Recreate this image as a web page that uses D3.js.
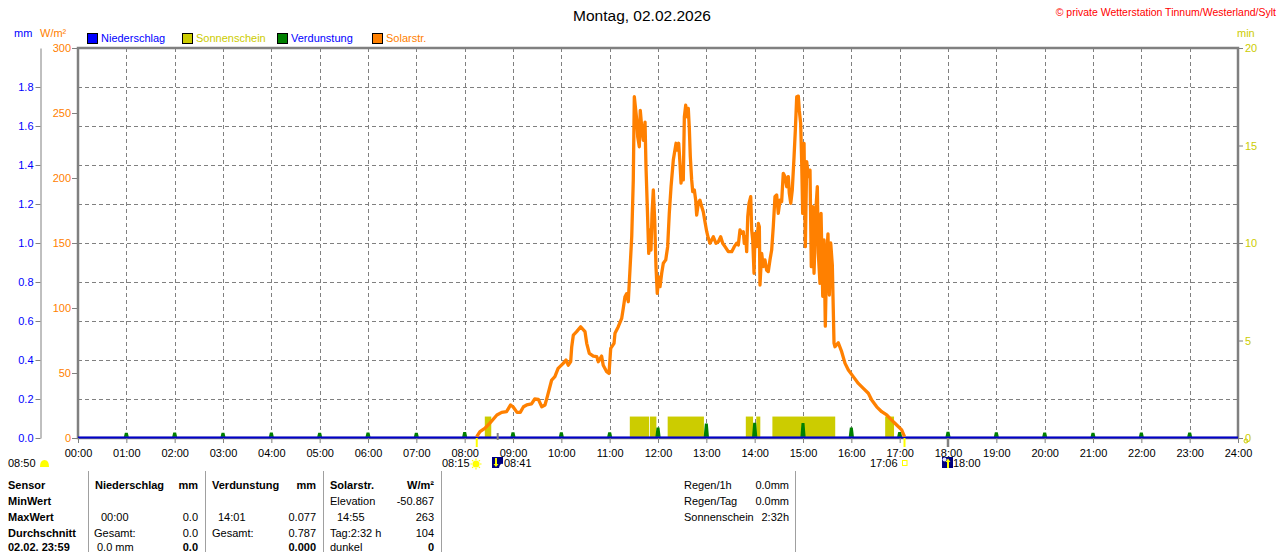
<!DOCTYPE html>
<html>
<head>
<meta charset="utf-8">
<script src="https://cdn.jsdelivr.net/npm/d3@7"></script>
<style>
  body { margin: 0; background: #fff; }
  svg text { font-family: "Liberation Sans", Arial, sans-serif; }
</style>
</head>
<body>
<svg id="chart" width="1280" height="552"></svg>
<script>
// ---- data (time in minutes of day) ----
const hours = d3.range(0, 25);
const mmTicks = [0, 0.2, 0.4, 0.6, 0.8, 1.0, 1.2, 1.4, 1.6, 1.8];
const solarTicks = [0, 50, 100, 150, 200, 250, 300];
const minTicks = [0, 5, 10, 15, 20];

// solar radiation W/m2
const solarMin = [495, 499, 505, 511, 520, 526, 532, 537, 540, 545, 549, 553, 557, 563, 567, 571.5, 575.7, 579.7,
  582.6, 588, 592, 596, 602.4, 605.8, 608.7, 611.6, 612.9, 614.9, 619, 624, 629.4, 631.5, 634.7, 639.7, 643.9,
  645.9, 650, 652, 656.3, 659.2, 661.3, 665.4, 666.6, 670.7, 674.9, 676.9, 679, 681, 683.1, 684.4, 687.4, 689.3,
  690.6, 693.6, 694.8, 696.8, 698, 700.1, 701.8, 703.9, 705.1, 706.7, 708.5, 710.1, 711.3, 712.6, 714.2, 715.9,
  717.5, 719.1, 720.9, 722.5, 724.6, 726.6, 729.6, 732, 734, 736.2, 739, 742.4, 744, 745.7, 747.3, 748.6, 750.2,
  751.4, 752.7, 754.4, 756, 757.6, 758.9, 760.1, 761.8, 763.1, 765.1, 766.8, 768, 770, 772.1, 774.2, 776.2, 778.3,
  780.5, 782.5, 784.6, 788.7, 792, 794.9, 797.8, 800.3, 803.2, 807.3, 811.5, 814.7, 817.7, 819.7, 821.8, 823.9,
  825.9, 827.1, 828.9, 830.1, 831.4, 833, 835.1, 836.3, 837.6, 839.2, 840.4, 842.5, 844.5, 845.8, 846.6, 848.7,
  850.7, 852.8, 854.9, 856.9, 859, 861.1, 863.1, 865.2, 867.3, 869.3, 871.5, 873.5, 875.5, 877.7, 879.8, 881.8,
  883, 884.8, 886.7, 888.9, 890.5, 892.2, 894.2, 895.4, 897.1, 898.4, 899.6, 901.3, 902.9, 904.6, 906.6, 908.7,
  910.3, 912.1, 913.7, 916.2, 917.8, 919, 921.1, 922.4, 924.5, 926.1, 927.7, 929.4, 931, 932.7, 934.4, 936.4,
  938.5, 939.7, 943.8, 948, 952.2, 956.3, 962.4, 968.7, 974.9, 981.1, 985.3, 991.5, 997.7, 1003.9, 1010.1,
  1016.3, 1022.5, 1026];
const solarWm = [1, 4.9, 7.4, 11.3, 17.7, 19.7, 20.3, 25.4, 24, 19.7, 19.7, 24, 25.4, 26.2, 30, 29.7, 24, 25.4,
  31.8, 44.6, 47.2, 53.6, 57.4, 60, 56, 58.7, 70.2, 79.2, 81.8, 85.6, 81.8, 72.8, 65.1, 63, 62.6,
  58.7, 63, 56, 51, 49.7, 69, 72.8, 80.5, 85.6, 92, 99.8, 108.7, 111, 104.8, 120, 155, 198,
  262.5, 244.6, 231.8, 224, 252, 237, 229, 243, 208.7, 178, 142, 160, 144.6, 172.8, 190.8, 167.7,
  131.8, 111.3, 124, 116.4, 126.7, 134.4, 137, 147.2, 172.8, 193.3, 213.8, 226.7, 221.5, 226.7, 211.3, 196, 208.7,
  198.5, 247, 256, 247, 253.6, 238, 216.4, 198.5, 189.5, 190.8, 183, 171.5, 180.5, 183, 178, 174, 166.4,
  158.7, 153.6, 149.8, 154.8, 149.8, 151, 154.8, 149.8, 147.2, 143.3, 143.3, 147.2, 149.8, 148.5, 160, 157.4,
  158.7, 149.8, 154.8, 143.3, 170.2, 180.5, 185.6, 160, 152.3, 126.7, 157.4, 147.2, 165, 162.5, 117.7, 142,
  131.8, 137, 129, 128, 137, 144.6, 162.5, 185.6, 187, 172.8, 183, 181.8, 203.6, 201, 193.3, 201,
  188.2, 180.5, 190.8, 216.4, 237, 262.5, 263, 252, 242, 211.3, 172.8, 226.7, 147.2, 212.6, 201, 206,
  131.8, 178, 126.7, 178, 193.3, 142, 119, 172.8, 109, 152.3, 86, 140, 157, 110, 150, 133,
  73, 70.2, 73.3, 66.4, 57.4, 52.3, 47.2, 42, 38.2, 34.4, 29.2, 24, 20.2, 17.7, 13.8,
  10, 6.2, 1];

// sunshine intervals (min of sunshine per interval)
const sunStart = ["08:25", "11:25", "11:50", "12:12", "13:49", "14:02", "14:22", "16:42"];
const sunEnd   = ["08:33", "11:49", "11:58", "12:57", "13:58", "14:07", "15:40", "16:53"];
const sunValue = 1.1;

// evaporation mm, hourly
const evapHours = d3.range(1, 24);
const evapValues = [0.025, 0.026, 0.025, 0.026, 0.025, 0.026, 0.025, 0.029, 0.028, 0.028, 0.028,
  0.053, 0.074, 0.077, 0.076, 0.053, 0.029, 0.030, 0.028, 0.026, 0.025, 0.026, 0.027];

// ---- setup ----
const svg = d3.select("#chart");
const L = 78, R = 1238, T = 48, B = 438;
const x = d3.scaleLinear().domain([0, 1440]).range([L, R]);
const ySolar = d3.scaleLinear().domain([0, 300]).range([B, T]);
const yMm = d3.scaleLinear().domain([0, 2]).range([B, T]);
const yMin = d3.scaleLinear().domain([0, 20]).range([B, T]);
const toMin = s => { const p = s.split(":"); return +p[0] * 60 + +p[1]; };
const GRAY = "#808080", YEL = "#cccc00", ORA = "#ff8000", BLUE = "#0000ff";

function txt(px, py, s, o) {
  o = o || {};
  return svg.append("text").attr("x", px).attr("y", py)
    .attr("font-size", o.size || 11)
    .attr("font-weight", o.bold ? "bold" : null)
    .attr("fill", o.color || "#000")
    .attr("text-anchor", o.anchor || "start")
    .text(s);
}

// title & header
txt(642, 21, "Montag, 02.02.2026", {size: 15.5, anchor: "middle"});
txt(1276, 16, "\u00a9 private Wetterstation Tinnum/Westerland/Sylt", {size: 10.5, anchor: "end", color: "#ff0000"});
txt(14, 37, "mm", {color: BLUE});
txt(40, 37, "W/m\u00b2", {color: ORA});
txt(1237, 37, "min", {color: YEL});

// legend
const legendItems = [
  {x: 87, fill: BLUE, label: "Niederschlag", color: BLUE},
  {x: 182, fill: YEL, label: "Sonnenschein", color: YEL},
  {x: 277, fill: "#008000", label: "Verdunstung", color: BLUE},
  {x: 372, fill: ORA, label: "Solarstr.", color: ORA}
];
legendItems.forEach(d => {
  svg.append("rect").attr("x", d.x + 0.5).attr("y", 33.5).attr("width", 10).attr("height", 10)
    .attr("fill", d.fill).attr("stroke", "#000");
  txt(d.x + 14, 42, d.label, {color: d.color});
});

// grid
const grid = svg.append("g").attr("stroke", GRAY).attr("stroke-dasharray", "4,3");
grid.selectAll(".v").data(hours.slice(1, 24)).enter().append("line")
  .attr("x1", d => Math.round(x(d * 60)) + 0.5).attr("x2", d => Math.round(x(d * 60)) + 0.5)
  .attr("y1", T).attr("y2", B);
grid.selectAll(".h").data(mmTicks.slice(1)).enter().append("line")
  .attr("x1", L).attr("x2", R)
  .attr("y1", d => Math.round(yMm(d)) + 0.5).attr("y2", d => Math.round(yMm(d)) + 0.5);

// sunshine bars
svg.append("g").selectAll("rect").data(sunStart).enter().append("rect")
  .attr("x", (d, i) => x(toMin(d)))
  .attr("width", (d, i) => x(toMin(sunEnd[i])) - x(toMin(d)))
  .attr("y", yMin(sunValue)).attr("height", B - yMin(sunValue))
  .attr("fill", YEL);

// evaporation spikes
const evLine = d3.line().x(d => x(d[0])).y(d => yMm(d[1]));
svg.append("g").selectAll("path").data(evapHours).enter().append("path")
  .attr("d", (h, i) => evLine([[h * 60 - 1.5, 0], [h * 60, evapValues[i]], [h * 60 + 1.5, 0]]))
  .attr("fill", "#008000").attr("stroke", "#008000").attr("stroke-width", 3);

// frame
svg.append("rect").attr("x", L).attr("y", T).attr("width", R - L).attr("height", B - T)
  .attr("fill", "none").attr("stroke", GRAY).attr("stroke-width", 2.5);
// precipitation (zero)
svg.append("line").attr("x1", L).attr("x2", R).attr("y1", B - 0.5).attr("y2", B - 0.5)
  .attr("stroke", "#0000cc").attr("stroke-width", 2);

// solar line
const sLine = d3.line().x(d => x(d[0])).y(d => ySolar(d[1]));
svg.append("path").datum(solarMin.map((m, i) => [m, solarWm[i]]))
  .attr("d", sLine).attr("fill", "none").attr("stroke", ORA)
  .attr("stroke-width", 3.3).attr("stroke-linejoin", "round");

// axes
function styleAxis(g, color, keepDomain) {
  g.attr("font-size", 11).attr("font-family", "Liberation Sans, Arial, sans-serif");
  g.selectAll("line").attr("stroke", GRAY);
  g.selectAll("text").attr("fill", color);
  if (keepDomain) g.select(".domain").attr("stroke", GRAY);
  else g.select(".domain").remove();
}
svg.append("g").attr("transform", "translate(40.5,0)")
  .call(d3.axisLeft(yMm).tickValues(mmTicks).tickSize(5).tickSizeOuter(0).tickPadding(2).tickFormat(d3.format(".1f")))
  .call(g => styleAxis(g, BLUE, true));
svg.append("g").attr("transform", "translate(77,0)")
  .call(d3.axisLeft(ySolar).tickValues(solarTicks).tickSize(5).tickPadding(1))
  .call(g => styleAxis(g, ORA, false));
svg.append("g").attr("transform", "translate(1238,0)")
  .call(d3.axisRight(yMin).tickValues(minTicks).tickSize(5).tickPadding(2))
  .call(g => styleAxis(g, YEL, false));
svg.append("g").attr("transform", "translate(0," + B + ")")
  .call(d3.axisBottom(x).tickValues(hours.map(h => h * 60)).tickSize(5).tickPadding(6)
    .tickFormat(d => d3.format("02")(d / 60) + ":00"))
  .call(g => styleAxis(g, "#000", false));

// sunrise / sunset / moon markers
svg.append("line").attr("x1", x(toMin("08:15"))).attr("x2", x(toMin("08:15"))).attr("y1", B).attr("y2", 447)
  .attr("stroke", "#ffff00").attr("stroke-width", 2);
svg.append("line").attr("x1", x(toMin("08:41"))).attr("x2", x(toMin("08:41"))).attr("y1", 433).attr("y2", 440)
  .attr("stroke", GRAY).attr("stroke-width", 2);
svg.append("line").attr("x1", x(toMin("17:06"))).attr("x2", x(toMin("17:06"))).attr("y1", B).attr("y2", 447)
  .attr("stroke", "#ffff00").attr("stroke-width", 2);
svg.append("line").attr("x1", x(toMin("18:00"))).attr("x2", x(toMin("18:00"))).attr("y1", B).attr("y2", 447)
  .attr("stroke", GRAY).attr("stroke-width", 2.5);
svg.append("circle").attr("cx", 1246).attr("cy", 441).attr("r", 2).attr("fill", "none").attr("stroke", YEL);

txt(8, 467, "08:50");
svg.append("path").attr("d", "M40,467 Q40,460 44.5,460 Q49,460 49,467 Z").attr("fill", "#ffff00");

txt(442, 467, "08:15");
const sun = svg.append("g").attr("transform", "translate(476,464)");
sun.append("circle").attr("r", 3.5).attr("fill", "#ffff00");
d3.range(8).forEach(k => {
  const a = k * Math.PI / 4;
  sun.append("line").attr("x1", Math.cos(a) * 4).attr("y1", Math.sin(a) * 4)
    .attr("x2", Math.cos(a) * 5.5).attr("y2", Math.sin(a) * 5.5).attr("stroke", "#ffff00").attr("stroke-width", 1.2);
});

svg.append("rect").attr("x", 492).attr("y", 457).attr("width", 11).attr("height", 11).attr("fill", "#000080");
svg.append("path").attr("d", "M495,458 L495,464 L493.5,464 L496,467 L498.5,464 L497,464 L497,458 Z").attr("fill", "#ffff00");
svg.append("path").attr("d", "M499,468 Q500,463 503,464 L503,468 Z").attr("fill", "#ffffff");
txt(504, 467, "08:41");

txt(870, 467, "17:06");
svg.append("rect").attr("x", 902.5).attr("y", 460.5).attr("width", 4.5).attr("height", 5)
  .attr("fill", "none").attr("stroke", "#ffff00");

svg.append("rect").attr("x", 942).attr("y", 457).attr("width", 11).attr("height", 11).attr("fill", "#000080");
svg.append("circle").attr("cx", 944.5).attr("cy", 459.5).attr("r", 2).attr("fill", "#e0e0ff");
svg.append("path").attr("d", "M947,468 L947,462 L945.5,462 L948,458.5 L950.5,462 L949,462 L949,468 Z").attr("fill", "#ffff00");
txt(953, 467, "18:00");

// table
const sep = [88, 205, 323, 441, 795];
svg.append("g").selectAll("line").data(sep).enter().append("line")
  .attr("x1", d => d + 0.5).attr("x2", d => d + 0.5).attr("y1", 471).attr("y2", 552)
  .attr("stroke", "#a0a0a0");

const rowY = [489, 505, 521, 536.5, 551];
["Sensor", "MinWert", "MaxWert", "Durchschnitt", "02.02. 23:59"].forEach((s, i) => txt(8, rowY[i], s, {bold: true}));

txt(95, rowY[0], "Niederschlag", {bold: true});
txt(198, rowY[0], "mm", {bold: true, anchor: "end"});
txt(101, rowY[2], "00:00");
txt(198, rowY[2], "0.0", {anchor: "end"});
txt(94, rowY[3], "Gesamt:");
txt(198, rowY[3], "0.0", {anchor: "end"});
txt(97, rowY[4], "0.0 mm");
txt(198, rowY[4], "0.0", {bold: true, anchor: "end"});

txt(212, rowY[0], "Verdunstung", {bold: true});
txt(316, rowY[0], "mm", {bold: true, anchor: "end"});
txt(218, rowY[2], "14:01");
txt(316, rowY[2], "0.077", {anchor: "end"});
txt(212, rowY[3], "Gesamt:");
txt(316, rowY[3], "0.787", {anchor: "end"});
txt(316, rowY[4], "0.000", {bold: true, anchor: "end"});

txt(330, rowY[0], "Solarstr.", {bold: true});
txt(434, rowY[0], "W/m\u00b2", {bold: true, anchor: "end"});
txt(330, rowY[1], "Elevation");
txt(434, rowY[1], "-50.867", {anchor: "end"});
txt(337, rowY[2], "14:55");
txt(434, rowY[2], "263", {anchor: "end"});
txt(330, rowY[3], "Tag:2:32 h");
txt(434, rowY[3], "104", {anchor: "end"});
txt(330, rowY[4], "dunkel");
txt(434, rowY[4], "0", {bold: true, anchor: "end"});

txt(684, rowY[0], "Regen/1h");
txt(789, rowY[0], "0.0mm", {anchor: "end"});
txt(684, rowY[1], "Regen/Tag");
txt(789, rowY[1], "0.0mm", {anchor: "end"});
txt(684, rowY[2], "Sonnenschein");
txt(789, rowY[2], "2:32h", {anchor: "end"});
</script>
</body>
</html>
